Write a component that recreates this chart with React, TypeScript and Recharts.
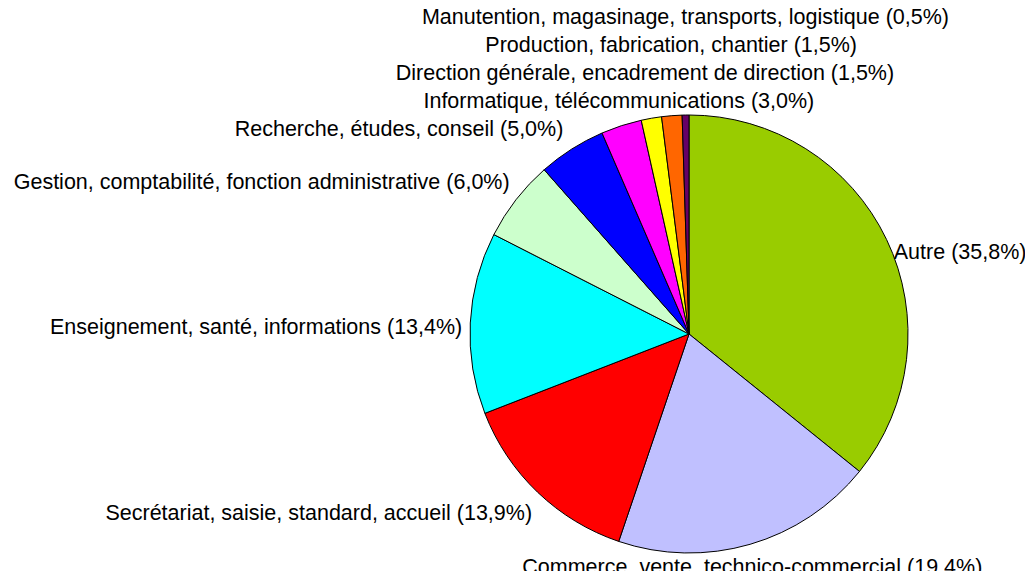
import React from 'react';
import { PieChart, Pie, Cell } from 'recharts';

const categories = [
  'Autre',
  'Commerce, vente, technico-commercial',
  'Secrétariat, saisie, standard, accueil',
  'Enseignement, santé, informations',
  'Gestion, comptabilité, fonction administrative',
  'Recherche, études, conseil',
  'Informatique, télécommunications',
  'Direction générale, encadrement de direction',
  'Production, fabrication, chantier',
  'Manutention, magasinage, transports, logistique',
];
const shares = [35.8, 19.4, 13.9, 13.4, 6.0, 5.0, 3.0, 1.5, 1.5, 0.5];
const colors = ['#99CC00', '#C0C0FF', '#FF0000', '#00FFFF', '#CCFFCC', '#0000FF', '#FF00FF', '#FFFF00', '#FF6600', '#660066'];
// small layout nudges for individual labels (dx, dy)
const labelNudgeX = [0, 0, 0, 0, 0, -4, 0, -5, 0, 0];
const labelNudgeY = [11, 0, 0, 0, 0, 0, 0, 0, 0, 0];

const data = categories.map((name, i) => ({ name, value: shares[i] }));

const FONT = 'Liberation Sans, Arial, sans-serif';
const FONT_SIZE = 21.5;
const LINE = 28;

// mid angles (degrees, counter-clockwise from 3 o'clock) for clockwise pie from 12 o'clock
const total = shares.reduce((a, b) => a + b, 0);
const midAngles: number[] = [];
{
  let acc = 0;
  shares.forEach((v) => {
    const mid = 90 - ((acc + v / 2) / total) * 360;
    midAngles.push(((mid % 360) + 360) % 360);
    acc += v;
  });
}
const inTopCluster = (m: number) => m > 90 && m < 110;
const clusterRank = midAngles.map((m, i) =>
  inTopCluster(m) ? midAngles.slice(0, i).filter(inTopCluster).length : -1
);

const fmt = (v: number) => `${v.toFixed(1).replace('.', ',')}%`;

const renderLabel = (props: any) => {
  const { cx, cy, outerRadius, index } = props;
  const RAD = Math.PI / 180;
  const m = midAngles[index];
  const cos = Math.cos(m * RAD);
  const sin = Math.sin(m * RAD);
  const r = outerRadius + 8;
  const px = cx + r * cos;
  const py = cy - r * sin;
  const text = `${categories[index]} (${fmt(shares[index])})`;
  let x = px;
  let y = py;
  let anchor: 'start' | 'middle' | 'end' = 'middle';
  if (clusterRank[index] >= 0) {
    y = cy - outerRadius - 14 - LINE * clusterRank[index];
    anchor = 'middle';
  } else {
    if (cos > 0.3) anchor = 'start';
    else if (cos < -0.3) anchor = 'end';
    else anchor = 'middle';
    if (sin > 0.5) y = py - 13;
    else if (sin < -0.5) y = py + 15;
    else y = py + 4.5;
  }
  x += labelNudgeX[index];
  y += labelNudgeY[index];
  return (
    <text
      key={`lbl-${index}`}
      x={x}
      y={y}
      textAnchor={anchor}
      dominantBaseline="central"
      fontFamily={FONT}
      fontSize={FONT_SIZE}
      fill="#000"
    >
      {text}
    </text>
  );
};

export default function App() {
  return (
    <div style={{ margin: -8, background: '#fff' }}>
      <PieChart width={1033} height={579} margin={{ top: 0, right: 0, bottom: 0, left: 0 }}>
        <Pie
          data={data}
          dataKey="value"
          nameKey="name"
          cx={689}
          cy={334}
          outerRadius={219}
          startAngle={90}
          endAngle={-270}
          stroke="#000"
          strokeWidth={1}
          label={renderLabel}
          labelLine={false}
          isAnimationActive={false}
        >
          {data.map((d, i) => (
            <Cell key={d.name} fill={colors[i]} />
          ))}
        </Pie>
      </PieChart>
    </div>
  );
}
